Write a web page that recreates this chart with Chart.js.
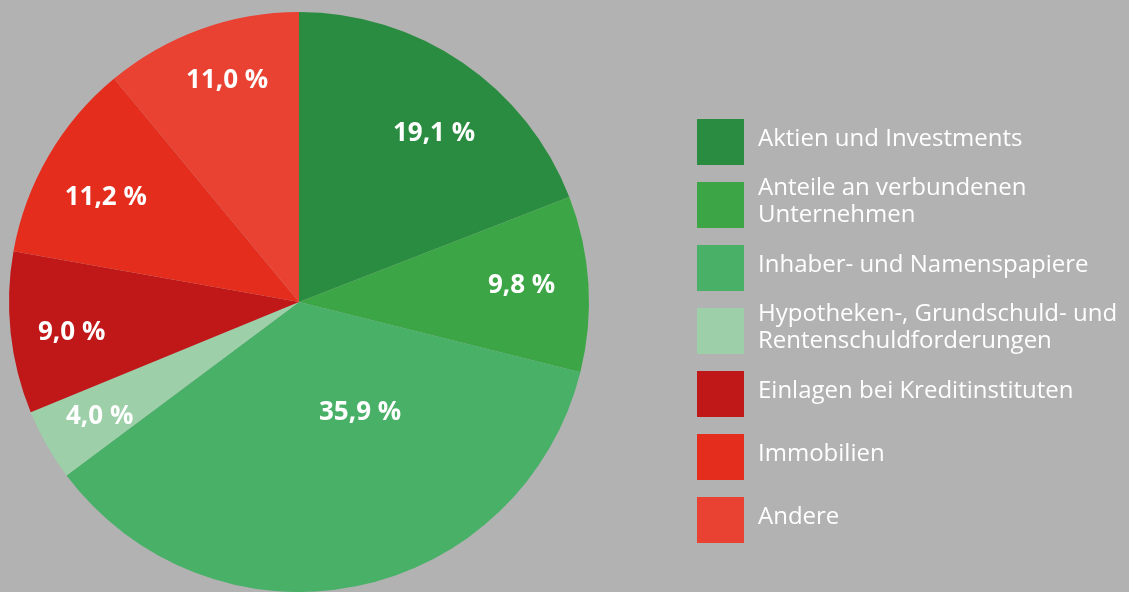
<!DOCTYPE html>
<html>
<head>
<meta charset="utf-8">
<script src="https://cdn.jsdelivr.net/npm/chart.js@4"></script>
<style>
  html, body { margin: 0; padding: 0; background: #b2b2b2; }
  #wrap { position: relative; width: 1129px; height: 592px; }
</style>
</head>
<body>
<div id="wrap"><canvas id="c" width="1129" height="592"></canvas></div>
<script>
const categories = [
  ["Aktien und Investments"],
  ["Anteile an verbundenen", "Unternehmen"],
  ["Inhaber- und Namenspapiere"],
  ["Hypotheken-, Grundschuld- und", "Rentenschuldforderungen"],
  ["Einlagen bei Kreditinstituten"],
  ["Immobilien"],
  ["Andere"]
];
const values = [19.1, 9.8, 35.9, 4.0, 9.0, 11.2, 11.0];
const colors = ["#2a8c40", "#3ca646", "#49b068", "#9dcfa8", "#c01718", "#e52d1e", "#e94132"];
// label placement: radial fraction of radius and angular shift (degrees)
const labelRadius = [0.75, 0.77, 0.43, 0.79, 0.79, 0.76, 0.81];
const labelShift = [4, -1, -18, 0, -1, -1.5, 2];

function fmt(v) { return v.toFixed(1).replace('.', ',') + ' %'; }

const labelPlugin = {
  id: 'sliceLabels',
  afterDatasetsDraw(chart) {
    const ctx = chart.ctx;
    const meta = chart.getDatasetMeta(0);
    ctx.save();
    ctx.fillStyle = '#ffffff';
    ctx.font = 'bold 26px "Open Sans"';
    ctx.textAlign = 'center';
    ctx.textBaseline = 'middle';
    meta.data.forEach((arc, i) => {
      const p = arc.getProps(['x', 'y', 'startAngle', 'endAngle', 'outerRadius'], true);
      const mid = (p.startAngle + p.endAngle) / 2 + labelShift[i] * Math.PI / 180;
      const r = p.outerRadius * labelRadius[i];
      ctx.fillText(fmt(values[i]), p.x + Math.cos(mid) * r, p.y + Math.sin(mid) * r + 2);
    });
    ctx.restore();
  }
};

const legendPlugin = {
  id: 'customLegend',
  afterDraw(chart) {
    const ctx = chart.ctx;
    const boxX = 697, boxW = 47, boxH = 46, textX = 758;
    const firstCenter = 142, step = 63, lineH = 27;
    ctx.save();
    ctx.font = '24px "Open Sans"';
    ctx.textAlign = 'left';
    ctx.textBaseline = 'middle';
    categories.forEach((lines, i) => {
      const cy = firstCenter + i * step;
      ctx.fillStyle = colors[i];
      ctx.fillRect(boxX, cy - boxH / 2, boxW, boxH);
      ctx.fillStyle = '#ffffff';
      const y0 = cy - 3 - (lines.length - 1) * lineH / 2;
      lines.forEach((t, j) => ctx.fillText(t, textX, y0 + j * lineH));
    });
    ctx.restore();
  }
};

new Chart(document.getElementById('c'), {
  type: 'pie',
  data: {
    labels: categories.map(l => l.join(' ')),
    datasets: [{
      data: values,
      backgroundColor: colors,
      borderWidth: 0
    }]
  },
  options: {
    responsive: false,
    animation: false,
    layout: { padding: { left: 9, top: 12, right: 540, bottom: 0 } },
    plugins: { legend: { display: false }, tooltip: { enabled: false } }
  },
  plugins: [labelPlugin, legendPlugin]
});
</script>
</body>
</html>
